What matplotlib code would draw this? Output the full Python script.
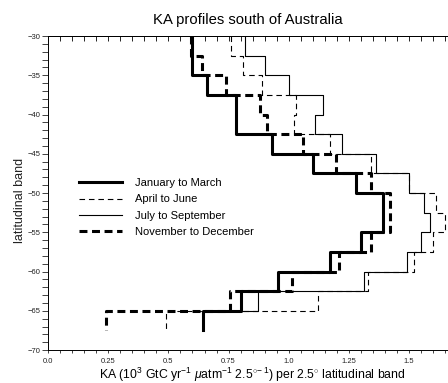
import numpy as np
import matplotlib
matplotlib.use('Agg')
import matplotlib.pyplot as plt
from matplotlib.ticker import MultipleLocator, FixedLocator, FixedFormatter

plt.rcParams['font.family'] = ['Liberation Sans', 'DejaVu Sans']
plt.rcParams['mathtext.fontset'] = 'custom'
plt.rcParams['mathtext.rm'] = 'Liberation Sans'
plt.rcParams['mathtext.it'] = 'Liberation Sans:italic'

# band edges (degrees latitude), 2.5 degree bands
lat_edges = [-30, -32.5, -35, -37.5, -40, -42.5, -45, -47.5, -50,
             -52.5, -55, -57.5, -60, -62.5, -65, -67.5]

# KA per band (top band first)
jan_mar = [0.60, 0.60, 0.66, 0.78, 0.78, 0.93, 1.10, 1.28, 1.39, 1.39,
           1.30, 1.17, 0.955, 0.80, 0.645]
apr_jun = [0.76, 0.81, 0.89, 1.03, 1.02, 1.17, 1.34, 1.50, 1.61, 1.65,
           1.60, 1.52, 1.33, 1.12, 0.49]
jul_sep = [0.82, 0.90, 1.00, 1.14, 1.11, 1.22, 1.36, 1.50, 1.56, 1.585,
           1.55, 1.49, 1.31, 0.873, 0.645]
nov_dec = [0.595, 0.64, 0.74, 0.88, 0.91, 1.06, 1.195, 1.34, 1.42, 1.42,
           1.34, 1.21, 1.015, 0.757, 0.24]

x_ticks = [0.0, 0.25, 0.5, 0.75, 1.0, 1.25, 1.5]
x_ticklabels = ['0.0', '0.25', '0.5', '0.75', '1.0', '1.25', '1.5']
y_ticks = [-30, -35, -40, -45, -50, -55, -60, -65, -70]


def step_xy(vals):
    # vertical segment for every band, joined by horizontals at band edges
    edges = np.array(lat_edges)
    ys = np.column_stack([edges[:-1], edges[1:]]).ravel()
    xs = np.repeat(vals, 2)
    return xs, ys


fig = plt.figure(figsize=(4.48, 3.83), dpi=100)
# axes run past the right edge of the picture, as in the original
ax = fig.add_axes([0.107, 0.086, 0.941, 0.820])

xs, ys = step_xy(jul_sep)
ax.plot(xs, ys, color='black', lw=0.8, label='July to September', zorder=2)
xs, ys = step_xy(apr_jun)
ax.plot(xs, ys, color='black', lw=0.8, ls=(0, (5, 3.5)), label='April to June', zorder=2)
xs, ys = step_xy(nov_dec)
ax.plot(xs, ys, color='black', lw=2.2, ls=(0, (2.6, 1.5)), label='November to December', zorder=3)
xs, ys = step_xy(jan_mar)
ax.plot(xs, ys, color='black', lw=2.2, label='January to March', zorder=4)

ax.set_xlim(0, 1.75)
ax.set_ylim(-70, -30)

ax.xaxis.set_major_locator(FixedLocator(x_ticks))
ax.xaxis.set_major_formatter(FixedFormatter(x_ticklabels))
ax.xaxis.set_minor_locator(MultipleLocator(0.05))
ax.yaxis.set_major_locator(FixedLocator(y_ticks))
ax.yaxis.set_minor_locator(MultipleLocator(1))

ax.tick_params(axis='both', which='both', direction='out', labelsize=5.5,
               width=0.6, colors='#222222')
ax.tick_params(axis='x', which='both', length=2.5, pad=3.2)
ax.tick_params(axis='y', which='both', length=4.3, pad=1.2)
ax.spines['right'].set_visible(False)
for s in ax.spines.values():
    s.set_linewidth(0.7)

top = ax.secondary_xaxis('top')
top.xaxis.set_major_locator(FixedLocator(x_ticks))
top.xaxis.set_minor_locator(MultipleLocator(0.05))
top.tick_params(axis='x', which='both', direction='in', length=3.5,
                width=0.6, labeltop=False)
top.spines['top'].set_linewidth(0.7)

ax.set_ylabel('latitudinal band', fontsize=9, color='#222222')
ax.yaxis.set_label_coords(-0.052, 0.475)

fig.text(0.554, 0.948, 'KA profiles south of Australia', ha='center',
         va='center', fontsize=10.7)
fig.text(0.5625, 0.0104,
         r'KA (10$^{3}$ GtC yr$^{-1}$ $\mathit{\mu}$atm$^{-1}$ 2.5$^{\circ\!-1}$) per 2.5$^{\circ}$ latitudinal band',
         ha='center', va='baseline', fontsize=8.8)

handles, labels = ax.get_legend_handles_labels()
order = [3, 1, 0, 2]
ax.legend([handles[i] for i in order], [labels[i] for i in order],
          loc='upper left', bbox_to_anchor=(0.0735, 0.548), frameon=False,
          fontsize=8, handlelength=3.9, handletextpad=1.17,
          labelspacing=0.58, borderpad=0, borderaxespad=0)

fig.savefig('out.png', dpi=100)
